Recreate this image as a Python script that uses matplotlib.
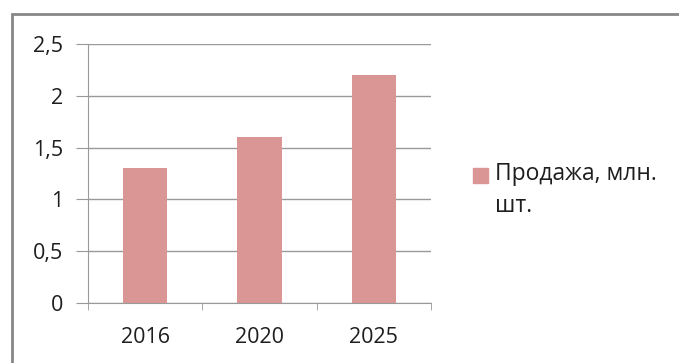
import matplotlib.pyplot as plt
import numpy as np
from matplotlib.patches import Rectangle

# данные
years = ['2016', '2020', '2025']
sales = [1.3, 1.6, 2.2]
y_ticks = [0, 0.5, 1, 1.5, 2, 2.5]
y_labels = ['0', '0,5', '1', '1,5', '2', '2,5']
series_name = 'Продажа, млн.\nшт.'
bar_color = '#D99694'

plt.rcParams['font.family'] = ['Open Sans', 'DejaVu Sans']
plt.rcParams['text.color'] = '#1e1e1e'
plt.rcParams['xtick.labelcolor'] = '#1e1e1e'
plt.rcParams['ytick.labelcolor'] = '#1e1e1e'

W, H = 679, 363
fig = plt.figure(figsize=(W / 100, H / 100), dpi=100)

# рамка области диаграммы
fig.patches.append(Rectangle((12 / W, -0.1), 1.2, 1 - 14 / H + 0.1,
                             transform=fig.transFigure, fill=False,
                             edgecolor='#878787', linewidth=2))

ax = fig.add_axes([88 / W, 1 - 303 / H, (431 - 88) / W, (303 - 44) / H])

x = np.arange(len(years))
ax.bar(x, sales, width=0.385, color=bar_color, zorder=3)

ax.set_xlim(-0.5, len(years) - 0.5)
ax.set_ylim(0, 2.5)
ax.set_yticks(y_ticks)
ax.set_yticklabels(y_labels)
ax.set_xticks(x)
ax.set_xticklabels(years)
ax.set_xticks(np.arange(len(years) + 1) - 0.5, minor=True)

ax.grid(axis='y', color='#999999', linewidth=1, zorder=0)
for s in ['top', 'right']:
    ax.spines[s].set_visible(False)
for s in ['left', 'bottom']:
    ax.spines[s].set_color('#999999')

ax.tick_params(axis='y', length=9, color='#999999', labelsize=15.5, pad=9)
ax.tick_params(axis='x', which='major', length=0, labelsize=15.5, pad=17)
ax.tick_params(axis='x', which='minor', length=5, color='#999999')

# легенда: квадрат-маркер и подпись в две строки
fig.patches.append(Rectangle((473 / W, 1 - 183 / H), 15 / W, 15 / H,
                             transform=fig.transFigure, color=bar_color))
fig.text(495 / W, 1 - 162 / H, series_name, ha='left', va='top',
         fontsize=16.5, linespacing=1.45)

fig.savefig('out.png', dpi=100)
